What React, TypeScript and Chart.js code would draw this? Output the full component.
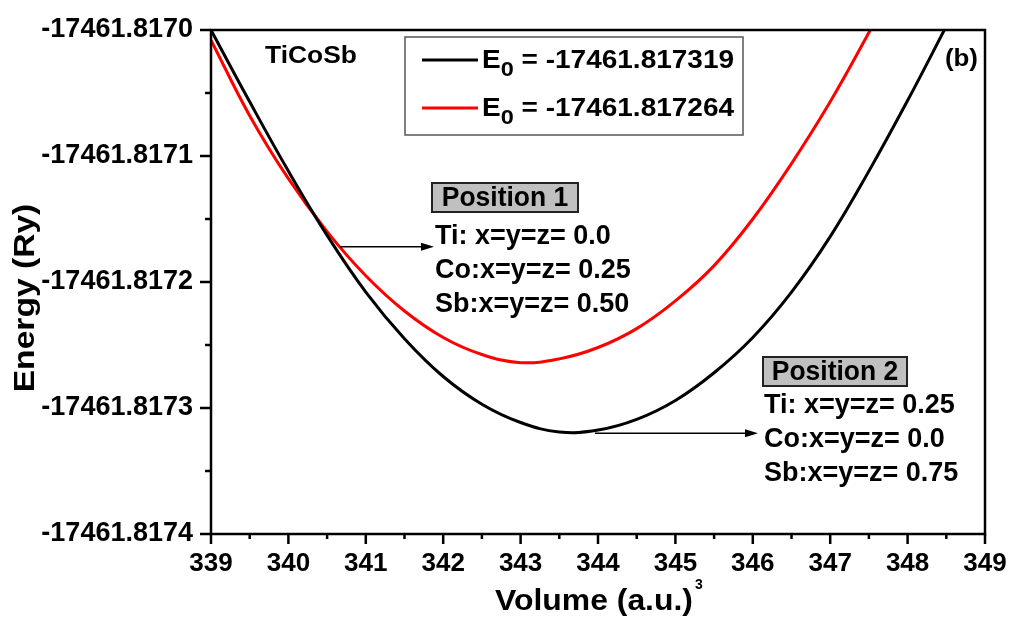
import React, { useEffect, useRef } from "react";
import { Chart, registerables } from "chart.js";

Chart.register(...registerables);

// Position 2 (black curve): total energy vs. cell volume
const volumesPos2 = [339, 339.5, 340, 340.5, 341, 341.5, 342, 342.5, 343, 343.5, 344, 344.5, 345, 345.5, 346, 346.5, 347, 347.5, 348, 348.5];
const energiesPos2 = [
  -17461.817, -17461.817057, -17461.817112, -17461.817163, -17461.817208, -17461.817245, -17461.817275,
  -17461.817297, -17461.8173115, -17461.817319, -17461.8173175, -17461.817309, -17461.817294, -17461.817272,
  -17461.817244, -17461.817208, -17461.817164, -17461.817112, -17461.817056, -17461.816997,
];

// Position 1 (red curve)
const volumesPos1 = [339, 339.5, 340, 340.5, 341, 341.5, 342, 342.5, 343, 343.5, 344, 344.5, 345, 345.5, 346, 346.5, 347, 347.5, 348];
const energiesPos1 = [
  -17461.817008, -17461.817068, -17461.817118, -17461.81716, -17461.817195, -17461.817223, -17461.817244,
  -17461.8172575, -17461.817264, -17461.817261, -17461.817252, -17461.817237, -17461.817215, -17461.817187,
  -17461.81715, -17461.817106, -17461.817057, -17461.817002, -17461.816944,
];

// Fitted ground-state energies shown in the legend (black, red)
const e0Values = [-17461.817319, -17461.817264];

const xTickValues = [339, 340, 341, 342, 343, 344, 345, 346, 347, 348, 349];
const yTickValues = [-17461.8174, -17461.8173, -17461.8172, -17461.8171, -17461.817];

const compoundLabel = "TiCoSb";
const panelLabel = "(b)";
const pos1Title = "Position 1";
const pos1Lines = ["Ti: x=y=z= 0.0", "Co:x=y=z= 0.25", "Sb:x=y=z= 0.50"];
const pos2Title = "Position 2";
const pos2Lines = ["Ti: x=y=z= 0.25", "Co:x=y=z= 0.0", "Sb:x=y=z= 0.75"];

// Arrow start points on the curves (volume, energy)
const pos1ArrowFrom = { x: 340.67, y: -17461.817172 };
const pos2ArrowFrom = { x: 343.96, y: -17461.81732 };

const FONT = '"Liberation Sans", Arial, Helvetica, sans-serif';

function drawText(
  ctx: CanvasRenderingContext2D,
  text: string,
  x: number,
  y: number,
  size: number,
  align: CanvasTextAlign = "left",
  sx = 1,
  baseline: CanvasTextBaseline = "middle"
): number {
  ctx.save();
  ctx.font = `bold ${size}px ${FONT}`;
  ctx.textAlign = align;
  ctx.textBaseline = baseline;
  ctx.fillStyle = "#000";
  ctx.translate(x, y);
  ctx.scale(sx, 1);
  ctx.fillText(text, 0, 0);
  const w = ctx.measureText(text).width * sx;
  ctx.restore();
  return w;
}

function drawArrow(ctx: CanvasRenderingContext2D, x0: number, y0: number, x1: number, y1: number) {
  ctx.save();
  ctx.strokeStyle = "#000";
  ctx.fillStyle = "#000";
  ctx.lineWidth = 1.5;
  ctx.beginPath();
  ctx.moveTo(x0, y0);
  ctx.lineTo(x1 - 10, y1);
  ctx.stroke();
  ctx.beginPath();
  ctx.moveTo(x1, y1);
  ctx.lineTo(x1 - 13, y1 - 4);
  ctx.lineTo(x1 - 13, y1 + 4);
  ctx.closePath();
  ctx.fill();
  ctx.restore();
}

const decorPlugin = {
  id: "decor",
  afterDraw(chart: any) {
    const { ctx, chartArea: ca, scales } = chart;
    const xs = scales.x;
    const ys = scales.y;

    // frame
    ctx.save();
    ctx.strokeStyle = "#000";
    ctx.lineWidth = 2.5;
    ctx.strokeRect(ca.left, ca.top, ca.right - ca.left, ca.bottom - ca.top);

    // outward major and minor ticks
    ctx.lineCap = "butt";
    ctx.beginPath();
    xTickValues.forEach((v, i) => {
      const px = xs.getPixelForValue(v);
      ctx.moveTo(px, ca.bottom);
      ctx.lineTo(px, ca.bottom + 10);
      if (i < xTickValues.length - 1) {
        const mx = xs.getPixelForValue((v + xTickValues[i + 1]) / 2);
        ctx.moveTo(mx, ca.bottom);
        ctx.lineTo(mx, ca.bottom + 5);
      }
    });
    yTickValues.forEach((v, i) => {
      const py = ys.getPixelForValue(v);
      ctx.moveTo(ca.left, py);
      ctx.lineTo(ca.left - 11, py);
      if (i < yTickValues.length - 1) {
        const my = ys.getPixelForValue((v + yTickValues[i + 1]) / 2);
        ctx.moveTo(ca.left, my);
        ctx.lineTo(ca.left - 6, my);
      }
    });
    ctx.stroke();
    ctx.restore();

    // axis titles
    const xMid = (ca.left + ca.right) / 2;
    ctx.save();
    ctx.font = `bold 29px ${FONT}`;
    const wVol = ctx.measureText("Volume (a.u.)").width * 1.1;
    ctx.restore();
    const xStart = xMid - (wVol + 8) / 2;
    drawText(ctx, "Volume (a.u.)", xStart, ca.bottom + 76, 29, "left", 1.1, "alphabetic");
    drawText(ctx, "3", xStart + wVol + 2, ca.bottom + 55, 14, "left", 1, "alphabetic");

    ctx.save();
    ctx.translate(26, ca.top + 268);
    ctx.rotate(-Math.PI / 2);
    drawText(ctx, "Energy (Ry)", 0, 0, 30, "center", 1.12, "middle");
    ctx.restore();

    // corner labels
    drawText(ctx, compoundLabel, ca.left + 54, ca.top + 26, 24, "left", 1.1);
    drawText(ctx, panelLabel, ca.right - 7, ca.top + 29, 24, "right", 1.08);

    // legend
    ctx.save();
    ctx.strokeStyle = "#555";
    ctx.lineWidth = 1.5;
    ctx.strokeRect(ca.left + 194, ca.top + 7, 338, 98);
    ctx.restore();
    chart.data.datasets.forEach((ds: any, i: number) => {
      const ly = ca.top + 30 + i * 48;
      ctx.save();
      ctx.strokeStyle = ds.borderColor;
      ctx.lineWidth = 3;
      ctx.beginPath();
      ctx.moveTo(ca.left + 211, ly);
      ctx.lineTo(ca.left + 267, ly);
      ctx.stroke();
      ctx.restore();
      let cx = ca.left + 271;
      cx += drawText(ctx, "E", cx, ly + 1, 25, "left", 1.12);
      cx += drawText(ctx, "0", cx, ly + 10, 21, "left", 1.12);
      drawText(ctx, " = " + e0Values[i].toFixed(6), cx, ly + 1, 25, "left", 1.12);
    });

    // position annotations
    const drawBox = (x: number, y: number, w: number, h: number, title: string) => {
      ctx.save();
      ctx.fillStyle = "#c0c0c0";
      ctx.fillRect(x, y, w, h);
      ctx.strokeStyle = "#222";
      ctx.lineWidth = 2;
      ctx.strokeRect(x, y, w, h);
      ctx.restore();
      drawText(ctx, title, x + w / 2, y + h / 2 + 1, 27, "center", 0.98);
    };

    drawBox(ca.left + 221, ca.top + 153, 146, 29, pos1Title);
    pos1Lines.forEach((t, i) => drawText(ctx, t, ca.left + 224, ca.top + 207 + i * 34, 27, "left", 1.0));
    drawArrow(
      ctx,
      xs.getPixelForValue(pos1ArrowFrom.x),
      ys.getPixelForValue(pos1ArrowFrom.y),
      ca.left + 223,
      ys.getPixelForValue(pos1ArrowFrom.y)
    );

    drawBox(ca.left + 552, ca.top + 327, 144, 29, pos2Title);
    pos2Lines.forEach((t, i) => drawText(ctx, t, ca.left + 553, ca.top + 376 + i * 34, 27, "left", 1.0));
    drawArrow(
      ctx,
      xs.getPixelForValue(pos2ArrowFrom.x),
      ys.getPixelForValue(pos2ArrowFrom.y),
      ca.left + 547,
      ys.getPixelForValue(pos2ArrowFrom.y)
    );
  },
};

export default function App() {
  const canvasRef = useRef<HTMLCanvasElement | null>(null);

  useEffect(() => {
    const canvas = canvasRef.current;
    if (!canvas) return;
    const toPoints = (xs: number[], ys: number[]) => xs.map((x, i) => ({ x, y: ys[i] }));

    const chart = new Chart(canvas, {
      type: "line",
      data: {
        datasets: [
          {
            label: "E0 = " + e0Values[0].toFixed(6),
            data: toPoints(volumesPos2, energiesPos2),
            borderColor: "#000000",
            borderWidth: 3,
            pointRadius: 0,
            tension: 0.4,
            fill: false,
            clip: 0,
          },
          {
            label: "E0 = " + e0Values[1].toFixed(6),
            data: toPoints(volumesPos1, energiesPos1),
            borderColor: "#ff0000",
            borderWidth: 3,
            pointRadius: 0,
            tension: 0.4,
            fill: false,
            clip: 0,
          },
        ],
      },
      options: {
        responsive: false,
        animation: false,
        devicePixelRatio: 1,
        layout: { padding: { left: 0, top: 30, right: 27, bottom: 0 } },
        plugins: {
          legend: { display: false },
          tooltip: { enabled: false },
          title: { display: false },
        },
        scales: {
          x: {
            type: "linear",
            min: 339,
            max: 349,
            grid: { display: false, drawTicks: false },
            border: { display: false },
            afterBuildTicks: (scale: any) => {
              scale.ticks = xTickValues.map((v) => ({ value: v }));
            },
            afterFit: (scale: any) => {
              scale.height = 92;
              scale.paddingLeft = 0;
              scale.paddingRight = 0;
            },
            ticks: {
              padding: 14,
              color: "#000",
              font: { family: FONT, size: 26, weight: "bold" },
              maxRotation: 0,
              autoSkip: false,
              callback: (v: any) => String(v),
            },
          },
          y: {
            type: "linear",
            min: yTickValues[0],
            max: yTickValues[yTickValues.length - 1],
            grid: { display: false, drawTicks: false },
            border: { display: false },
            afterBuildTicks: (scale: any) => {
              scale.ticks = yTickValues.map((v) => ({ value: v }));
            },
            afterFit: (scale: any) => {
              scale.width = 211;
              scale.paddingTop = 0;
              scale.paddingBottom = 0;
            },
            ticks: {
              padding: 18,
              color: "#000",
              font: { family: FONT, size: 27, weight: "bold" },
              autoSkip: false,
              callback: (v: any) => Number(v).toFixed(4),
            },
          },
        },
      },
      plugins: [decorPlugin],
    });

    return () => chart.destroy();
  }, []);

  return (
    <div style={{ position: "fixed", left: 0, top: 0, width: 1012, height: 626, background: "#fff" }}>
      <canvas ref={canvasRef} width={1012} height={626} style={{ display: "block" }} />
    </div>
  );
}
